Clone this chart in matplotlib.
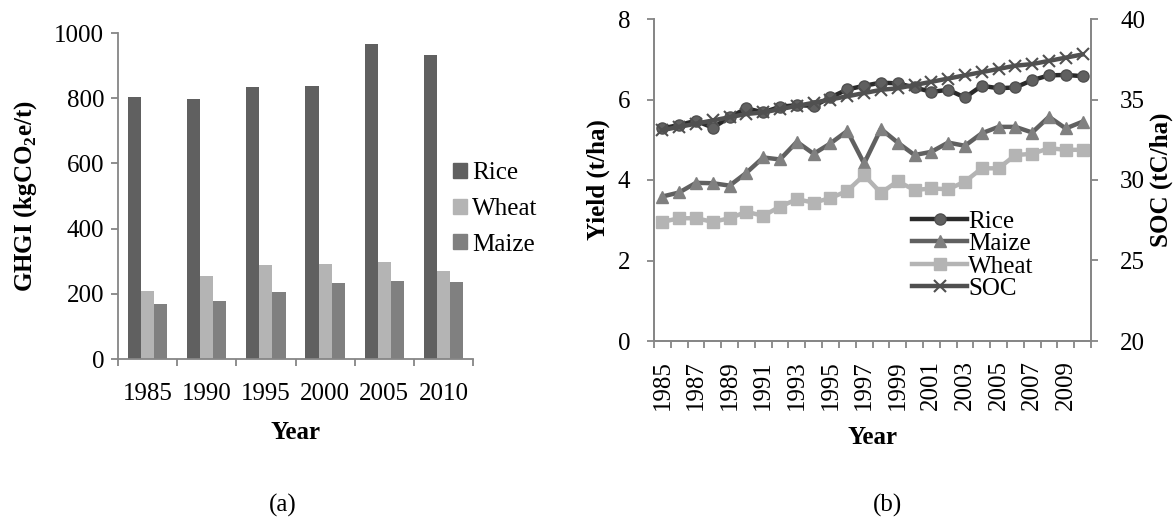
import matplotlib
matplotlib.use('Agg')
import matplotlib.pyplot as plt
from matplotlib.patches import Patch
import numpy as np

plt.rcParams['font.family'] = ['Liberation Serif', 'DejaVu Serif']
plt.rcParams['mathtext.fontset'] = 'custom'
plt.rcParams['mathtext.rm'] = 'Liberation Serif'
plt.rcParams['mathtext.bf'] = 'Liberation Serif:bold'

# (a) GHGI bar chart data
bar_years = ['1985', '1990', '1995', '2000', '2005', '2010']
ghgi_rice = [805, 799, 833, 836, 967, 933]
ghgi_wheat = [210, 254, 289, 291, 299, 270]
ghgi_maize = [170, 177, 206, 234, 240, 235]

# (b) yield / SOC line chart data
line_years = list(range(1985, 2011))
yield_rice = [5.28, 5.37, 5.47, 5.30, 5.56, 5.78, 5.68, 5.82, 5.86, 5.84, 6.05, 6.25, 6.34,
              6.42, 6.40, 6.30, 6.19, 6.24, 6.05, 6.34, 6.28, 6.30, 6.48, 6.60, 6.61, 6.58]
yield_maize = [3.59, 3.69, 3.93, 3.92, 3.86, 4.18, 4.56, 4.51, 4.95, 4.65, 4.91, 5.22, 4.41,
               5.27, 4.93, 4.62, 4.70, 4.93, 4.85, 5.16, 5.32, 5.32, 5.18, 5.57, 5.28, 5.45]
yield_wheat = [2.96, 3.05, 3.05, 2.96, 3.05, 3.21, 3.11, 3.34, 3.52, 3.44, 3.55, 3.73, 4.12,
               3.68, 3.97, 3.75, 3.79, 3.77, 3.96, 4.29, 4.29, 4.62, 4.65, 4.79, 4.75, 4.75]
soc = [33.1, 33.3, 33.5, 33.7, 33.9, 34.1, 34.2, 34.4, 34.6, 34.8, 35.0, 35.2, 35.4,
       35.6, 35.7, 35.9, 36.1, 36.3, 36.5, 36.7, 36.9, 37.1, 37.2, 37.4, 37.6, 37.8]

FS = 18
spine_c = '#868686'

fig = plt.figure(figsize=(11.74, 5.24), dpi=100)

# ---------- (a) ----------
ax1 = fig.add_axes([118 / 1174, 1 - 359 / 524, 355 / 1174, 326 / 524])
x = np.arange(len(bar_years))
w = 1 / 4.5
ax1.bar(x - w, ghgi_rice, w, color='#606060', label='Rice')
ax1.bar(x, ghgi_wheat, w, color='#b4b4b4', label='Wheat')
ax1.bar(x + w, ghgi_maize, w, color='#808080', label='Maize')
ax1.set_xlim(-0.5, len(bar_years) - 0.5)
ax1.set_ylim(0, 1000)
ax1.set_yticks(range(0, 1001, 200))
ax1.set_xticks(x)
ax1.set_xticklabels(bar_years)
ax1.set_xticks(np.arange(-0.5, len(bar_years)), minor=True)
ax1.tick_params(axis='x', which='major', length=0, pad=17, labelsize=FS)
ax1.tick_params(axis='x', which='minor', length=5, width=1.3, color=spine_c)
ax1.tick_params(axis='y', length=5, width=1.3, color=spine_c, pad=5, labelsize=FS)
for s in ['top', 'right']:
    ax1.spines[s].set_visible(False)
for s in ['left', 'bottom']:
    ax1.spines[s].set_color(spine_c)
    ax1.spines[s].set_linewidth(1.3)
ax1.set_ylabel(r'GHGI (kgCO$_\mathbf{2}$e/t)', fontsize=FS, fontweight='bold', labelpad=11)
ax1.set_xlabel('Year', fontsize=FS, fontweight='bold', labelpad=12)
handles = [Patch(color='#606060'), Patch(color='#b4b4b4'), Patch(color='#808080')]
ax1.legend(handles, ['Rice', 'Wheat', 'Maize'], loc='center left',
           bbox_to_anchor=(453 / 1174, 1 - 209 / 524), bbox_transform=fig.transFigure,
           frameon=False, fontsize=FS, handlelength=0.55, handleheight=0.55,
           handletextpad=0.2, labelspacing=0.55, borderpad=0, borderaxespad=0)

# ---------- (b) ----------
ax2 = fig.add_axes([654 / 1174, 1 - 341 / 524, 437 / 1174, 322 / 524])
xi = np.arange(len(line_years))
lw = 3.2
l1, = ax2.plot(xi, yield_rice, color='#2a2a2a', lw=lw, marker='o', ms=8,
               mfc='#606060', mec='#505050', label='Rice')
l2, = ax2.plot(xi, yield_maize, color='#606060', lw=lw, marker='^', ms=8,
               mfc='#808080', mec='#808080', label='Maize')
l3, = ax2.plot(xi, yield_wheat, color='#b4b4b4', lw=lw, marker='s', ms=8,
               mfc='#b4b4b4', mec='#b4b4b4', label='Wheat')
ax2.set_xlim(-0.5, len(line_years) - 0.5)
ax2.set_ylim(0, 8)
ax2.set_yticks(range(0, 9, 2))
ax2.set_xticks(xi[::2])
ax2.set_xticklabels([str(y) for y in line_years[::2]], rotation=90)
ax2.set_xticks(np.arange(-0.5, len(line_years)), minor=True)
ax2.tick_params(axis='x', which='major', length=0, pad=14, labelsize=FS)
ax2.tick_params(axis='x', which='minor', length=5, width=1.3, color=spine_c)
ax2.tick_params(axis='y', length=5, width=1.3, color=spine_c, pad=12, labelsize=FS)
ax2.set_ylabel('Yield (t/ha)', fontsize=FS, fontweight='bold', labelpad=6)
ax2.set_xlabel('Year', fontsize=FS, fontweight='bold', labelpad=11)

ax3 = ax2.twinx()
l4, = ax3.plot(xi, soc, color='#505050', lw=lw, marker='x', ms=9, mew=1.5,
               mec='#505050', label='SOC')
ax3.set_ylim(20, 40)
ax3.set_yticks(range(20, 41, 5))
ax3.tick_params(axis='y', length=5, width=1.3, color=spine_c, pad=16, labelsize=FS)
ax3.set_ylabel('SOC (tC/ha)', fontsize=FS, fontweight='bold', labelpad=3)

for a in (ax2, ax3):
    a.spines['top'].set_visible(False)
    for s in ['left', 'right', 'bottom']:
        a.spines[s].set_color(spine_c)
        a.spines[s].set_linewidth(1.3)

ax3.legend([l1, l2, l3, l4], ['Rice', 'Maize', 'Wheat', 'SOC'], loc='center left',
           bbox_to_anchor=(912 / 1174, 1 - 255 / 524), bbox_transform=fig.transFigure,
           frameon=False, fontsize=FS, handlelength=2.2, handletextpad=0.05,
           labelspacing=0.0, borderpad=0, borderaxespad=0, numpoints=1)

fig.text(283 / 1174, 1 - 505 / 524, '(a)', fontsize=FS, ha='center', va='center')
fig.text(887 / 1174, 1 - 505 / 524, '(b)', fontsize=FS, ha='center', va='center')

fig.savefig('out.png', dpi=100)
